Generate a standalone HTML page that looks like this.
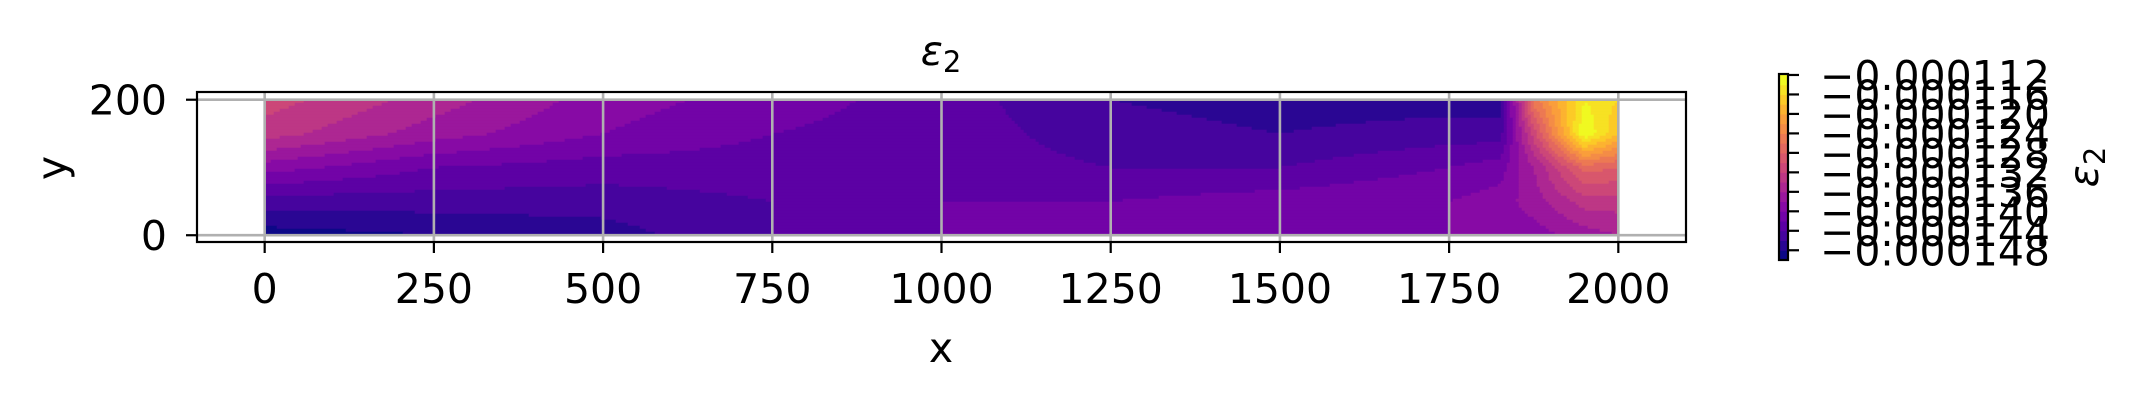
<!DOCTYPE html>
<html><head><meta charset="utf-8"><style>
html,body{margin:0;padding:0;background:#fff;}
svg{display:block;font-family:"DejaVu Sans","Liberation Sans",sans-serif;}
</style></head><body>
<svg id="chart" width="2139" height="401" viewBox="0 0 2139 401">
<g id="plot"></g>
<g id="grid"></g>
<rect x="197" y="92" width="1489" height="150" fill="none" stroke="#000" stroke-width="2.2"/>
<g id="ticks"></g>
<text x="941" y="65" text-anchor="middle" font-size="41"><tspan font-style="italic">ε</tspan><tspan font-size="29" dy="7">2</tspan></text>
<text x="941" y="362" text-anchor="middle" font-size="41">x</text>
<text transform="translate(66,168) rotate(-90)" text-anchor="middle" font-size="41">y</text>
<g id="cbar"></g>
<text transform="translate(2098,167) rotate(-90)" text-anchor="middle" font-size="41"><tspan font-style="italic">ε</tspan><tspan font-size="29" dy="7">2</tspan></text>
</svg>
<script>
// data (values in units of 1e-6)
const xs = [0,250,500,750,1000,1250,1500,1750,1825,1875,1950,2000];
const ys = [0,50,100,150,200];
const row0   = [-149,-148,-147,-144,-142,-140,-140,-140,-139,-139,-137,-136];
const row50  = [-145,-145,-145,-144,-142,-142,-141,-140,-139,-137,-133,-133];
const row100 = [-139,-142,-143,-143,-143,-144,-144,-142,-141,-136,-127,-128];
const row150 = [-133,-137,-140,-142,-143,-145,-146,-145,-145,-131,-112,-118];
const row200 = [-131,-135,-139,-141,-143,-146,-147,-147,-147,-125,-114,-116];
const xTicks = [0,250,500,750,1000,1250,1500,1750,2000];
const yTicks = [0,200];
const cbarTicks = [-112,-116,-120,-124,-128,-132,-136,-140,-144,-148];
const levelMin = -150, levelMax = -112, levelStep = 2;

const NS='http://www.w3.org/2000/svg';
const X0=197, X1=1686, XMIN=-100, XMAX=2100;
const Y0=242, Y1=92, YMIN=-10, YMAX=211.4;
const sx=v=>X0+(v-XMIN)/(XMAX-XMIN)*(X1-X0);
const sy=v=>Y0-(v-YMIN)/(YMAX-YMIN)*(Y0-Y1);
const plasma=[[13,8,135],[65,4,157],[106,0,168],[143,13,164],[177,42,144],[204,71,120],[225,100,98],[242,132,75],[252,166,54],[252,206,37],[240,249,33]];
function cmap(t){t=Math.max(0,Math.min(1,t));const f=t*10,i=Math.min(9,Math.floor(f)),r=f-i;const a=plasma[i],b=plasma[i+1];
return 'rgb('+a.map((c,k)=>Math.round(c+(b[k]-c)*r)).join(',')+')';}
function levelColor(v){const k=Math.floor((v-levelMin)/levelStep);const nl=(levelMax-levelMin)/levelStep;
return cmap(Math.max(0,Math.min(nl-1,k))/(nl-1));}
const rows=[row0,row50,row100,row150,row200];
function seg(arr,v){let i=0;while(i<arr.length-2&&v>arr[i+1])i++;return [i,(v-arr[i])/(arr[i+1]-arr[i])];}
function val(x,y){const [i,fx]=seg(xs,x),[j,fy]=seg(ys,y);
const a=rows[j][i],b=rows[j][i+1],c=rows[j+1][i],d=rows[j+1][i+1];
return (a*(1-fx)+b*fx)*(1-fy)+(c*(1-fx)+d*fx)*fy;}
const plot=document.getElementById('plot');
const px0=sx(xs[0]),px1=sx(xs[xs.length-1]),py0=sy(ys[ys.length-1]),py1=sy(ys[0]);
const st=3;
for(let py=py0;py<py1;py+=st){
  const h=Math.min(st,py1-py);const yv=YMIN+(Y0-(py+h/2))/(Y0-Y1)*(YMAX-YMIN);
  let runStart=px0,runCol=null;
  for(let px=px0;px<=px1;px+=st){
    const xv=XMIN+(Math.min(px+st/2,px1)-X0)/(X1-X0)*(XMAX-XMIN);
    const col=px<px1?levelColor(val(Math.min(xv,2000),Math.max(0,Math.min(200,yv)))):null;
    if(col!==runCol){
      if(runCol){const r=document.createElementNS(NS,'rect');
        r.setAttribute('x',runStart);r.setAttribute('y',py);r.setAttribute('width',Math.min(px,px1)-runStart+0.6);r.setAttribute('height',h+0.6);r.setAttribute('fill',runCol);
        
        
        plot.appendChild(r);}
      runStart=px;runCol=col;}
  }
  if(runCol){const r=document.createElementNS(NS,'rect');
    r.setAttribute('x',runStart);r.setAttribute('y',py);r.setAttribute('width',px1-runStart);r.setAttribute('height',h+0.6);r.setAttribute('fill',runCol);
    
    
    plot.appendChild(r);}
}
const grid=document.getElementById('grid'),ticks=document.getElementById('ticks');
function line(g,x1,y1,x2,y2,c,w,name){const l=document.createElementNS(NS,'line');
l.setAttribute('x1',x1);l.setAttribute('y1',y1);l.setAttribute('x2',x2);l.setAttribute('y2',y2);l.setAttribute('stroke',c);l.setAttribute('stroke-width',w);


g.appendChild(l);}
function text(g,x,y,s,anchor,name){const t=document.createElementNS(NS,'text');
t.setAttribute('x',x);t.setAttribute('y',y);t.setAttribute('text-anchor',anchor);t.setAttribute('font-size','41');t.textContent=s;


g.appendChild(t);}
xTicks.forEach(v=>{const x=sx(v);line(grid,x,Y1,x,Y0,'#b0b0b0',2.6,'x-grid-line');
line(ticks,x,Y0,x,Y0+11,'#000',2.2,'x-tick');text(ticks,x,303,String(v),'middle','x-tick-label');});
yTicks.forEach(v=>{const y=sy(v);line(grid,X0,y,X1,y,'#b0b0b0',2.6,'y-grid-line');
line(ticks,X0-11,y,X0,y,'#000',2.2,'y-tick');text(ticks,X0-30,y+15,String(v),'end','y-tick-label');});
// colorbar
const cb=document.getElementById('cbar');const CX=1779,CW=9,CT=74,CB=260;
const cbMin=-150,cbMax=-111.8;const cy=v=>CB-(v-cbMin)/(cbMax-cbMin)*(CB-CT);
for(let v=levelMin;v<levelMax;v+=levelStep){const r=document.createElementNS(NS,'rect');
r.setAttribute('x',CX);r.setAttribute('y',cy(v+levelStep));r.setAttribute('width',CW);r.setAttribute('height',cy(v)-cy(v+levelStep)+0.5);r.setAttribute('fill',levelColor(v+0.5));


cb.appendChild(r);}
const fr=document.createElementNS(NS,'rect');fr.setAttribute('x',CX);fr.setAttribute('y',CT);fr.setAttribute('width',CW);fr.setAttribute('height',CB-CT);fr.setAttribute('fill','none');fr.setAttribute('stroke','#000');fr.setAttribute('stroke-width','2.2');


cb.appendChild(fr);
cbarTicks.forEach(v=>{const y=cy(v);line(cb,CX+CW,y,CX+CW+11,y,'#000',2.2,'colorbar-tick');
text(cb,1820,y+15,'\u2212'+(Math.abs(v)/1e6).toFixed(6),'start','colorbar-tick-label');});
</script>
</body></html>
